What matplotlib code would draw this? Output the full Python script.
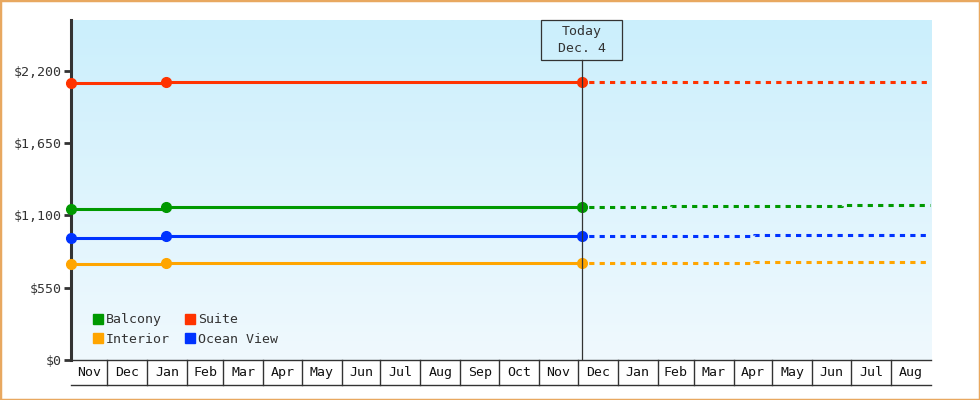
#!/usr/bin/env python3
# coding: utf-8

from datetime import date, timedelta

import numpy as np
import matplotlib
matplotlib.use("Agg")
import matplotlib.pyplot as plt
import matplotlib.dates as mdates
import matplotlib.transforms as mtransforms
from matplotlib.colors import LinearSegmentedColormap
from matplotlib.lines import Line2D
from matplotlib.patches import Rectangle

# price history (solid) and projection (dotted)
hist_dates = ["2024-11-03", "2025-01-16", "2025-12-04"]
balcony_hist = [1147, 1162, 1162]
interior_hist = [729, 739, 739]
ocean_hist = [927, 942, 942]
suite_hist = [2106, 2112, 2112]

balcony_proj_dates = ["2025-12-04", "2026-02-11", "2026-06-24", "2026-08-31"]
balcony_proj = [1162, 1170, 1177, 1177]
interior_proj_dates = ["2025-12-04", "2026-04-17", "2026-08-31"]
interior_proj = [739, 744, 744]
ocean_proj_dates = ["2025-12-04", "2026-04-17", "2026-08-31"]
ocean_proj = [942, 950, 950]
suite_proj_dates = ["2025-12-04", "2026-08-31"]
suite_proj = [2112, 2112]

today = "2025-12-04"
today_label = "Today\nDec. 4"
x_start = "2024-11-03"
x_end = "2026-09-01"
y_ticks = [0, 550, 1100, 1650, 2200]
y_max = 2585

colors = {"Balcony": "#009900", "Suite": "#ff3300",
          "Interior": "#ffa500", "Ocean View": "#0033ff"}
text_color = "#333333"
font = "DejaVu Sans Mono"
fsize = 9.5


def d(s):
    return date.fromisoformat(s)


def to_num(lst):
    return mdates.date2num([d(s) for s in lst])


fig = plt.figure(figsize=(9.8, 4.0), dpi=100)
ax = fig.add_axes([71 / 980, 40 / 400, 860 / 980, 340 / 400])

# gradient background
cmap = LinearSegmentedColormap.from_list("bg", ["#f0f9fe", "#cbeffc"])
grad = np.linspace(0, 1, 256).reshape(-1, 1)
ax.imshow(grad, extent=[0, 1, 0, 1], transform=ax.transAxes, origin="lower",
          cmap=cmap, aspect="auto", zorder=0)

series = [
    ("Balcony", balcony_hist, balcony_proj_dates, balcony_proj),
    ("Interior", interior_hist, interior_proj_dates, interior_proj),
    ("Suite", suite_hist, suite_proj_dates, suite_proj),
    ("Ocean View", ocean_hist, ocean_proj_dates, ocean_proj),
]
hx = to_num(hist_dates)
for name, hv, pd_, pv in series:
    c = colors[name]
    ax.plot(to_num(pd_), pv, color=c, lw=2.2, ls=(1.2, (1.7, 1.7)),
            drawstyle="steps-post", solid_capstyle="butt", zorder=3)
    ax.plot(hx, hv, color=c, lw=2.2, drawstyle="steps-post", zorder=4)
    ax.plot(hx, hv, color=c, ls="none", marker="o", ms=7, zorder=5,
            clip_on=False)

x0, x1 = mdates.date2num(d(x_start)), mdates.date2num(d(x_end))
ax.set_xlim(x0, x1)
ax.set_ylim(0, y_max)

# today marker
t = mdates.date2num(d(today))
box_h = 40 / 340
ax.axvline(t, ymin=0, ymax=1 - box_h, color=text_color, lw=0.9, zorder=6)
half_w = 40.5 / (860 / (x1 - x0))
blend = mtransforms.blended_transform_factory(ax.transData, ax.transAxes)
ax.add_patch(Rectangle((t - half_w, 1 - box_h), 2 * half_w, box_h,
                       transform=blend, fill=False, ec=text_color, lw=0.9,
                       zorder=6, clip_on=False))
ax.text(t, 1 - box_h / 2, today_label, transform=blend, ha="center",
        va="center", family=font, fontsize=fsize, color=text_color,
        linespacing=1.3, zorder=7)

# y axis
ax.set_yticks(y_ticks)
ax.set_yticklabels(["${:,.0f}".format(v) for v in y_ticks],
                   family=font, fontsize=fsize, color=text_color)
ax.tick_params(axis="y", length=5, width=2, color=text_color, pad=2)
ax.tick_params(axis="x", length=0, labelbottom=False)
for s in ["top", "right"]:
    ax.spines[s].set_visible(False)
ax.spines["left"].set_color(text_color)
ax.spines["left"].set_linewidth(2.2)
ax.spines["bottom"].set_color(text_color)
ax.spines["bottom"].set_linewidth(1)

# month boxes below the axis
bounds = [d(x_start)]
cur = date(d(x_start).year, d(x_start).month, 1)
while True:
    cur = (cur + timedelta(days=32)).replace(day=1)
    if cur >= d(x_end):
        break
    bounds.append(cur)
bounds.append(d(x_end))
box_y = -25 / 340
for a, b in zip(bounds[:-1], bounds[1:]):
    na, nb = mdates.date2num(a), mdates.date2num(b)
    ax.text((na + nb) / 2, box_y / 2, a.strftime("%b"), transform=blend,
            ha="center", va="center", family=font, fontsize=fsize,
            color="#111111", clip_on=False)
for b in bounds[1:-1]:
    nb = mdates.date2num(b)
    ax.add_line(Line2D([nb, nb], [box_y, 0], transform=blend,
                       color=text_color, lw=1, clip_on=False))
ax.add_line(Line2D([x0, x1], [box_y, box_y], transform=blend,
                   color=text_color, lw=1, clip_on=False))

# legend
handles = [Line2D([], [], ls="none", marker="s", ms=7.5, color=colors[n])
           for n, _, _, _ in series]
leg = ax.legend(handles, [n for n, _, _, _ in series], ncol=2,
                loc="lower left", bbox_to_anchor=(22 / 860, 14 / 340),
                frameon=False, borderpad=0, borderaxespad=0,
                handlelength=0.75, handletextpad=0.2, columnspacing=1.2,
                labelspacing=0.5, prop={"family": font, "size": fsize})
for txt in leg.get_texts():
    txt.set_color(text_color)

# orange frame around the image
fig.patches.append(Rectangle((0, 0), 1, 1, transform=fig.transFigure,
                             fill=False, ec="#e8a860", lw=2.5))

fig.savefig("out.png", dpi=100)
